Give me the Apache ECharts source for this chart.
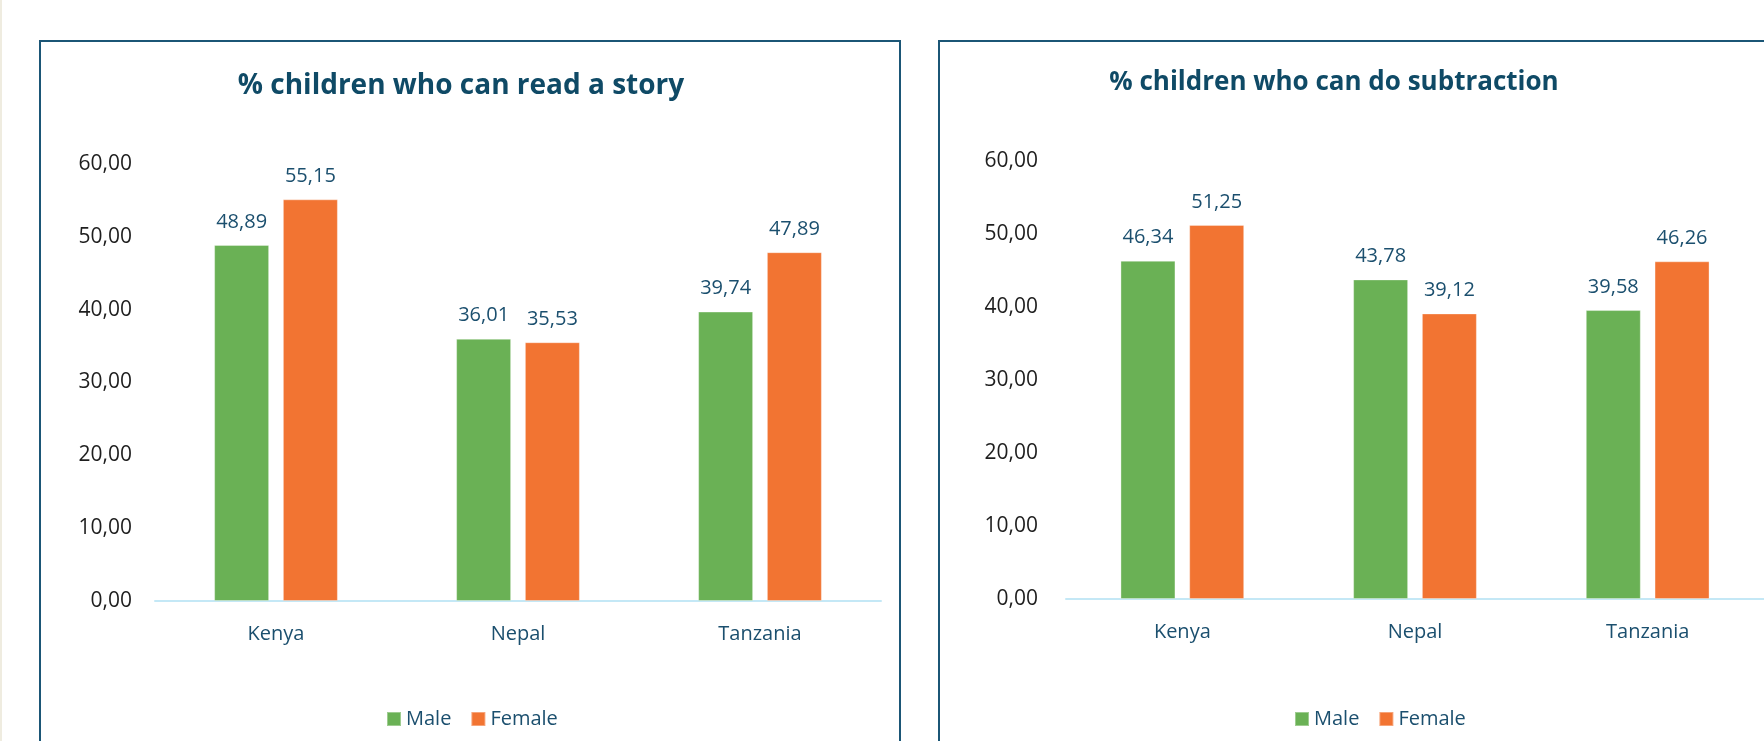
<!DOCTYPE html>
<html>
<head>
<meta charset="utf-8">
<title>Reading and subtraction by gender</title>
<script src="https://cdn.jsdelivr.net/npm/echarts@6/dist/echarts.min.js"></script>
<style>
  html, body { margin: 0; padding: 0; background: #ffffff; }
  #chart { width: 1764px; height: 741px; }
</style>
</head>
<body>
<div id="chart"></div>
<script>
// Countries on the category axis
const countries = ['Kenya', 'Nepal', 'Tanzania'];

// % children who can read a story
const readMale = [48.89, 36.01, 39.74];
const readFemale = [55.15, 35.53, 47.89];

// % children who can do subtraction
const subMale = [46.34, 43.78, 39.58];
const subFemale = [51.25, 39.12, 46.26];

const seriesNames = ['Male', 'Female'];
const chartTitles = ['% children who can read a story', '% children who can do subtraction'];

const GREEN = '#6ab155';
const ORANGE = '#f27432';
const TEAL = '#1b4f6e';
const TITLE = '#0f4a66';
const FONT = '"Open Sans", "Noto Sans", sans-serif';

const fmt = v => Number(v).toFixed(2).replace('.', ',');

function yAxisFor(gridIndex, margin) {
  return {
    type: 'value', gridIndex, min: 0, max: 60, interval: 10,
    axisLine: { show: false }, axisTick: { show: false },
    splitLine: { show: false },
    axisLabel: { formatter: fmt, color: '#1e1e1e', fontFamily: FONT, fontSize: 21, margin }
  };
}
function xAxisFor(gridIndex) {
  return {
    type: 'category', gridIndex, data: countries,
    axisTick: { show: false },
    axisLine: { lineStyle: { color: '#c4e8f6', width: 2 } },
    axisLabel: { color: TEAL, fontFamily: FONT, fontSize: 20, margin: 23 }
  };
}
function barSeries(name, data, color, idx) {
  return {
    type: 'bar', name, data,
    xAxisIndex: idx, yAxisIndex: idx,
    barWidth: 55, barGap: '25%',
    itemStyle: { color, borderColor: 'rgba(255,255,255,0.35)', borderWidth: 1 },
    label: {
      show: true, position: 'top', distance: 13,
      formatter: p => fmt(p.value),
      color: TEAL, fontFamily: FONT, fontSize: 20
    }
  };
}
function legendAt(left) {
  return {
    left, top: 709, padding: 0, data: seriesNames,
    icon: 'rect', itemWidth: 14, itemHeight: 14, itemGap: 19,
    textStyle: { color: TEAL, fontFamily: FONT, fontSize: 20 },
    selectedMode: false
  };
}

const chart = echarts.init(document.getElementById('chart'), null, { renderer: 'canvas' });

chart.setOption({
  backgroundColor: '#ffffff',
  animation: false,
  color: [GREEN, ORANGE],
  title: [
    { text: chartTitles[0], left: 461, top: 72, textAlign: 'center', padding: 0,
      textStyle: { color: TITLE, fontFamily: FONT, fontWeight: 'bold', fontSize: 28 } },
    { text: chartTitles[1], left: 1334, top: 70, textAlign: 'center', padding: 0,
      textStyle: { color: TITLE, fontFamily: FONT, fontWeight: 'bold', fontSize: 26 } }
  ],
  legend: [legendAt(386), legendAt(1294)],
  grid: [
    { left: 155, top: 164, width: 726, height: 437 },
    { left: 1066, top: 161, width: 726, height: 438 }
  ],
  xAxis: [xAxisFor(0), xAxisFor(1)],
  yAxis: [yAxisFor(0, 23), yAxisFor(1, 28)],
  series: [
    barSeries(seriesNames[0], readMale, GREEN, 0),
    barSeries(seriesNames[1], readFemale, ORANGE, 0),
    barSeries(seriesNames[0], subMale, GREEN, 1),
    barSeries(seriesNames[1], subFemale, ORANGE, 1)
  ],
  graphic: [
    // thin strip along the left edge of the page
    { type: 'rect', left: 0, top: 0, shape: { width: 2, height: 741 },
      style: { fill: '#efece0' }, silent: true },
    // panel frames
    { type: 'rect', x: 40, y: 41, shape: { width: 860, height: 760 },
      style: { fill: null, stroke: '#1b5676', lineWidth: 2 }, silent: true, z: -1 },
    { type: 'rect', x: 939, y: 41, shape: { width: 860, height: 760 },
      style: { fill: null, stroke: '#1b5676', lineWidth: 2 }, silent: true, z: -1 }
  ]
});
</script>
</body>
</html>
